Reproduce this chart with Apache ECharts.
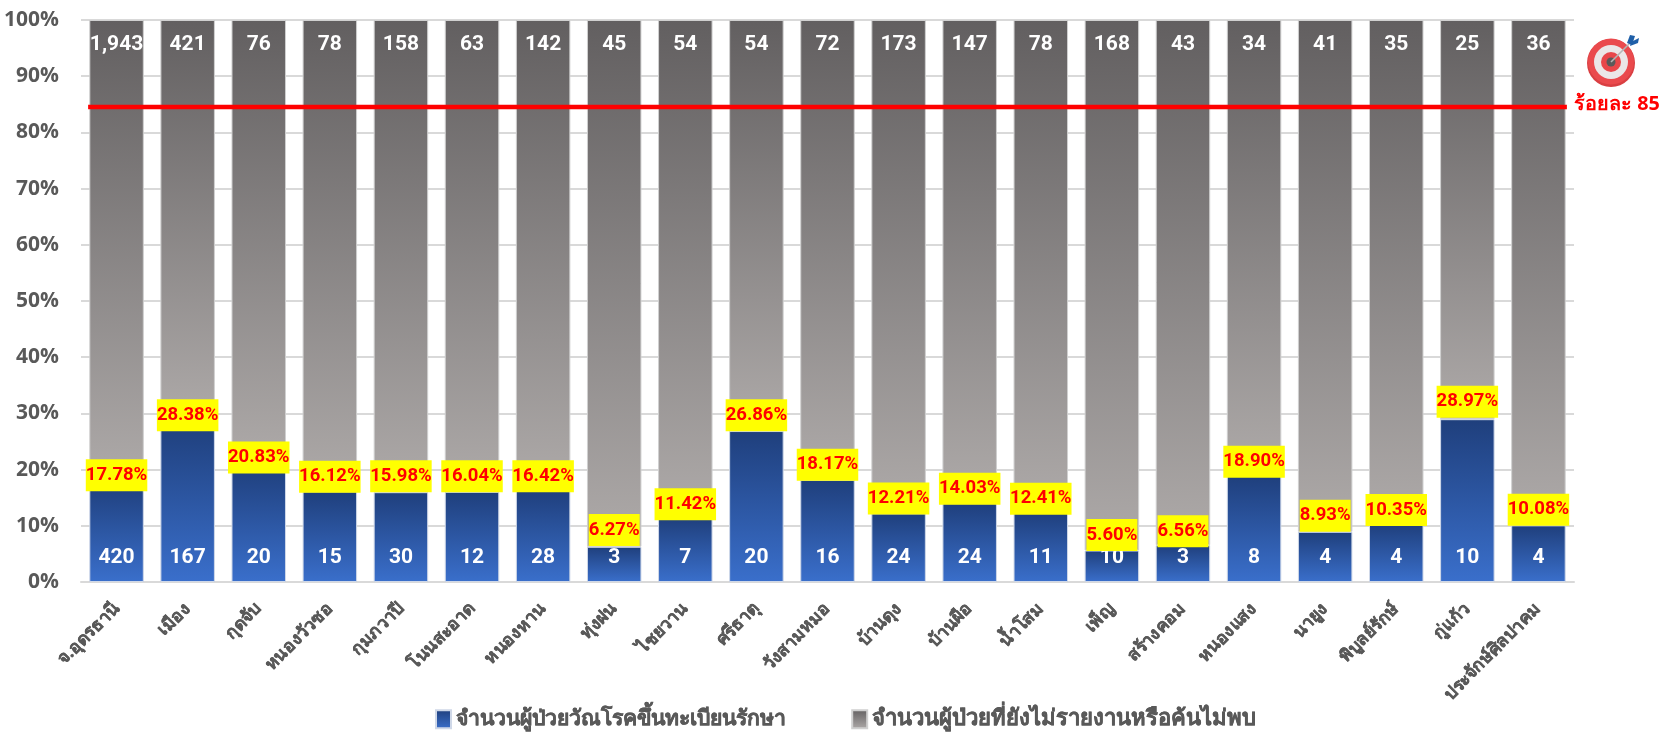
<!DOCTYPE html>
<html><head><meta charset="utf-8">
<style>html,body{margin:0;padding:0;background:#fff}#c{width:1664px;height:735px}</style>
<script src="https://cdn.jsdelivr.net/npm/echarts@6/dist/echarts.min.js"></script></head>
<body><div id="c"></div>
<script>
const categories=['จ.อุดรธานี','เมือง','กุดจับ','หนองวัวซอ','กุมภวาปี','โนนสะอาด','หนองหาน','ทุ่งฝน','ไชยวาน','ศรีธาตุ','วังสามหมอ','บ้านดุง','บ้านผือ','น้ำโสม','เพ็ญ','สร้างคอม','หนองแสง','นายูง','พิบูลย์รักษ์','กู่แก้ว','ประจักษ์ศิลปาคม'];
const registered=[420,167,20,15,30,12,28,3,7,20,16,24,24,11,10,3,8,4,4,10,4];
const missing=[1943,421,76,78,158,63,142,45,54,54,72,173,147,78,168,43,34,41,35,25,36];
const percent=[17.78,28.38,20.83,16.12,15.98,16.04,16.42,6.27,11.42,26.86,18.17,12.21,14.03,12.41,5.60,6.56,18.90,8.93,10.35,28.97,10.08];
const targetLevel=84.5;
const percentLabelShift=[-6.9,-7.2,-7.4,-14.7,-16,-15.7,-13.5,-16.8,-13.6,-15.7,-15.2,-14.9,-14.5,-13.6,-15.5,-13.9,-14,-16.1,-13.8,-17.4,-15.6];
const font='Open Sans, Noto Sans, sans-serif';
const txt='#595959';
const blue={type:'linear',x:0,y:0,x2:0,y2:1,colorStops:[{offset:0,color:'#1f3f7c'},{offset:1,color:'#3a6fcb'}]};
const gray={type:'linear',x:0,y:0,x2:0,y2:1,colorStops:[{offset:0,color:'#625f60'},{offset:1,color:'#aeaaa9'}]};
const chart=echarts.init(document.getElementById('c'),null,{renderer:'canvas'});
chart.setOption({animation:false,
grid:{left:81,right:90,top:20,bottom:153},
legend:{left:435,top:708,padding:0,itemWidth:15,itemHeight:18,itemGap:65,selectedMode:false,icon:'rect',
 data:[{name:'จำนวนผู้ป่วยวัณโรคขึ้นทะเบียนรักษา',textStyle:{fontSize:21.2}},{name:'จำนวนผู้ป่วยที่ยังไม่รายงานหรือค้นไม่พบ',textStyle:{fontSize:22}}],
 textStyle:{fontFamily:font,fontWeight:'bold',color:txt,textBorderColor:txt,textBorderWidth:0.4}},
xAxis:[{type:'category',data:categories,axisTick:{show:false},axisLine:{lineStyle:{color:'#d9d9d9',width:2}},
 axisLabel:{rotate:45,interval:0,fontFamily:font,fontSize:17.5,fontWeight:'bold',color:txt,margin:24,textBorderColor:txt,textBorderWidth:0.4}},
 {type:'value',min:0,max:21,show:false}],
yAxis:{type:'value',min:0,max:100,interval:10,axisLine:{show:false},axisTick:{show:false},
 splitLine:{lineStyle:{color:'#d9d9d9',width:2}},
 axisLabel:{formatter:'{value}%',fontFamily:font,fontSize:21,fontWeight:'bold',color:txt,margin:22}},
series:[
{name:'จำนวนผู้ป่วยวัณโรคขึ้นทะเบียนรักษา',type:'bar',stack:'a',barWidth:54.5,
 data:percent,itemStyle:{color:blue,borderColor:'#cfd8e8',borderWidth:1},
 label:{show:true,position:'insideBottom',distance:14,formatter:p=>registered[p.dataIndex],fontFamily:'Roboto, sans-serif',fontSize:21,fontWeight:'bold',color:'#fff'}},
{name:'จำนวนผู้ป่วยที่ยังไม่รายงานหรือค้นไม่พบ',type:'bar',stack:'a',barWidth:54.5,
 data:percent.map(v=>100-v),itemStyle:{color:gray,borderColor:'#d0d0d0',borderWidth:1},
 label:{show:true,position:'insideTop',distance:14,formatter:p=>missing[p.dataIndex].toLocaleString('en-US'),fontFamily:'Roboto, sans-serif',fontSize:21,fontWeight:'bold',color:'#fff'}},
{type:'scatter',symbolSize:0,z:5,itemStyle:{opacity:1},
 data:percent.map((v,i)=>({value:[categories[i],v],label:{offset:[0,percentLabelShift[i]]}})),
 label:{show:true,position:'inside',formatter:p=>percent[p.dataIndex].toFixed(2)+'%',fontFamily:'Roboto, sans-serif',fontSize:18.5,fontWeight:'bold',color:'#ff0000',backgroundColor:'#ffff00',padding:[8,0,8,0],lineHeight:16}},
{type:'line',xAxisIndex:1,data:[[0.1,targetLevel],[20.9,targetLevel]],symbol:'none',lineStyle:{color:'#ff0000',width:4.5},z:6}
],
graphic:{elements:[
 {type:'circle',shape:{cx:1611,cy:63,r:24},style:{fill:'#d93f42'},silent:true},
 {type:'circle',shape:{cx:1611,cy:61.5,r:23},style:{fill:'#ea4a4d'},silent:true},
 {type:'circle',shape:{cx:1611,cy:62,r:17},style:{fill:'#ebe7e7'},silent:true},
 {type:'circle',shape:{cx:1611,cy:62,r:10},style:{fill:'#e8474a'},silent:true},
 {type:'circle',shape:{cx:1611,cy:62,r:4.5},style:{fill:'#5a5a5a'},silent:true},
 {type:'line',shape:{x1:1611,y1:62,x2:1631,y2:42},style:{stroke:'#b5b5b5',lineWidth:1.6},silent:true},
 {type:'polygon',shape:{points:[[1627,43],[1630,35],[1635,36],[1632,45]]},style:{fill:'#1f5fa8'},silent:true},
 {type:'polygon',shape:{points:[[1630,46],[1638,43],[1639,38],[1631,42]]},style:{fill:'#1f5fa8'},silent:true},
 {type:'text',left:1574,top:94,style:{text:'ร้อยละ 85',fontFamily:font,fontSize:19.8,fontWeight:'bold',fill:'#ff0000'},silent:true}
]}
});
</script></body></html>
